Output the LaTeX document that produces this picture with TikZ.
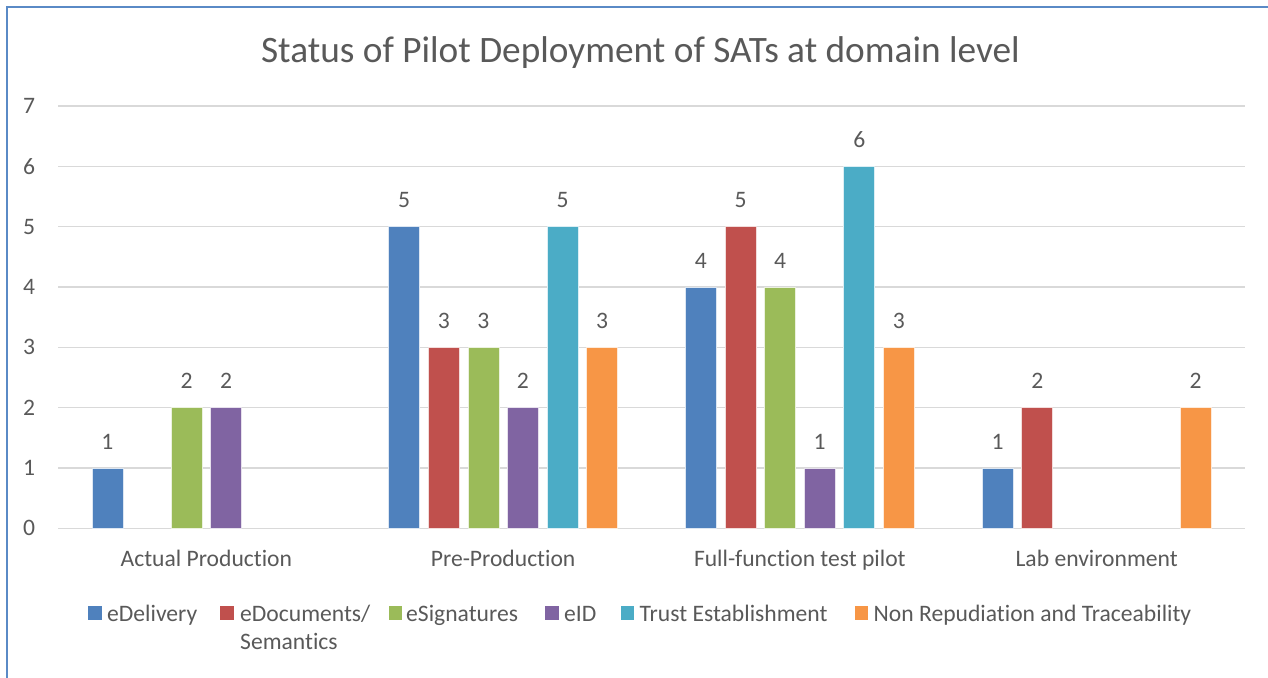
\documentclass[tikz,border=0pt]{standalone}
\usepackage{fontspec}
\setmainfont{Carlito}[Ligatures=CommonOff]
\definecolor{txtgray}{HTML}{595959}
\definecolor{gridgray}{HTML}{D9D9D9}
\definecolor{frameblue}{HTML}{5A8AC6}
\definecolor{sDelivery}{HTML}{4F81BD}
\definecolor{sDocuments}{HTML}{C0504D}
\definecolor{sSignatures}{HTML}{9BBB59}
\definecolor{sID}{HTML}{8064A2}
\definecolor{sTrust}{HTML}{4BACC6}
\definecolor{sNonRep}{HTML}{F79646}
\begin{document}
\begin{tikzpicture}[x=1pt,y=-1pt,
  lbl/.style={text=txtgray,inner sep=0pt,font=\fontsize{23.6}{28}\selectfont},
  ttl/.style={text=txtgray,inner sep=0pt,font=\fontsize{37.3}{44}\selectfont},
  gridline/.style={draw=gridgray,line width=1.6pt},
  bar/.style={draw=white!80!#1,line width=0.6pt,fill=#1},
  legsq/.style={fill=#1,draw=none,minimum size=13.5pt,inner sep=0pt,anchor=north west}]
\useasboundingbox (0,0) rectangle (1268,677);
\begin{scope}
\clip (0,0) rectangle (1268,677);
% chart frame, running past the right and bottom edges
\draw[frameblue,line width=2pt] (7,7.5) rectangle (1290,700);

% title
\node[ttl,anchor=base] (title) at (640.5,63) {Status of Pilot Deployment of SATs at domain level};

% value axis: gridlines and tick labels
\foreach \v in {0,...,7}{
  \pgfmathsetmacro{\yy}{528.3-60.33*\v}
  \draw[gridline] (58,\yy) -- (1245,\yy);
  \node[lbl] (tick\v) at (29,\yy) {\v};
}

% category labels
\foreach \c/\name in {0/Actual Production,1/Pre-Production,2/Full-function test pilot,3/Lab environment}{
  \pgfmathsetmacro{\cx}{58+296.75*(\c+0.5)}
  \node[lbl,anchor=base] (cat\c) at (\cx,566.5) {\name};
}

% bars with their value labels (category, series index, colour, value)
\foreach \c/\i/\col/\v in {
  0/0/sDelivery/1, 0/2/sSignatures/2, 0/3/sID/2,
  1/0/sDelivery/5, 1/1/sDocuments/3, 1/2/sSignatures/3, 1/3/sID/2, 1/4/sTrust/5, 1/5/sNonRep/3,
  2/0/sDelivery/4, 2/1/sDocuments/5, 2/2/sSignatures/4, 2/3/sID/1, 2/4/sTrust/6, 2/5/sNonRep/3,
  3/0/sDelivery/1, 3/1/sDocuments/2, 3/5/sNonRep/2}{
  \pgfmathsetmacro{\bx}{58+296.75*(\c+0.5)-114.5+39.6*\i}
  \pgfmathsetmacro{\bt}{528.3-60.33*\v}
  \draw[bar=\col] (\bx,528.3) rectangle (\bx+31,\bt);
  \node[lbl] (val\c\i) at (\bx+15.5,\bt-26.5) {\v};
}

% legend
\node[legsq=sDelivery]   (kDel)  at (88,606) {};
\node[lbl,anchor=base west] (tDel) at (107,621.5) {eDelivery};
\node[legsq=sDocuments]  (kDoc)  at (220,606) {};
\node[lbl,anchor=base west,align=left] (tDoc) at (240,649.5) {eDocuments/\\[0.5pt]Semantics};
\node[legsq=sSignatures] (kSig)  at (388.5,606) {};
\node[lbl,anchor=base west] (tSig) at (406,621.5) {eSignatures};
\node[legsq=sID]         (kID)   at (545,606) {};
\node[lbl,anchor=base west] (tID) at (564,621.5) {eID};
\node[legsq=sTrust]      (kTr)   at (620.5,606) {};
\node[lbl,anchor=base west] (tTr) at (639.5,621.5) {Trust Establishment};
\node[legsq=sNonRep]     (kNR)   at (854.5,606) {};
\node[lbl,anchor=base west] (tNR) at (873.5,621.5) {Non Repudiation and Traceability};
\end{scope}
\end{tikzpicture}
\end{document}
